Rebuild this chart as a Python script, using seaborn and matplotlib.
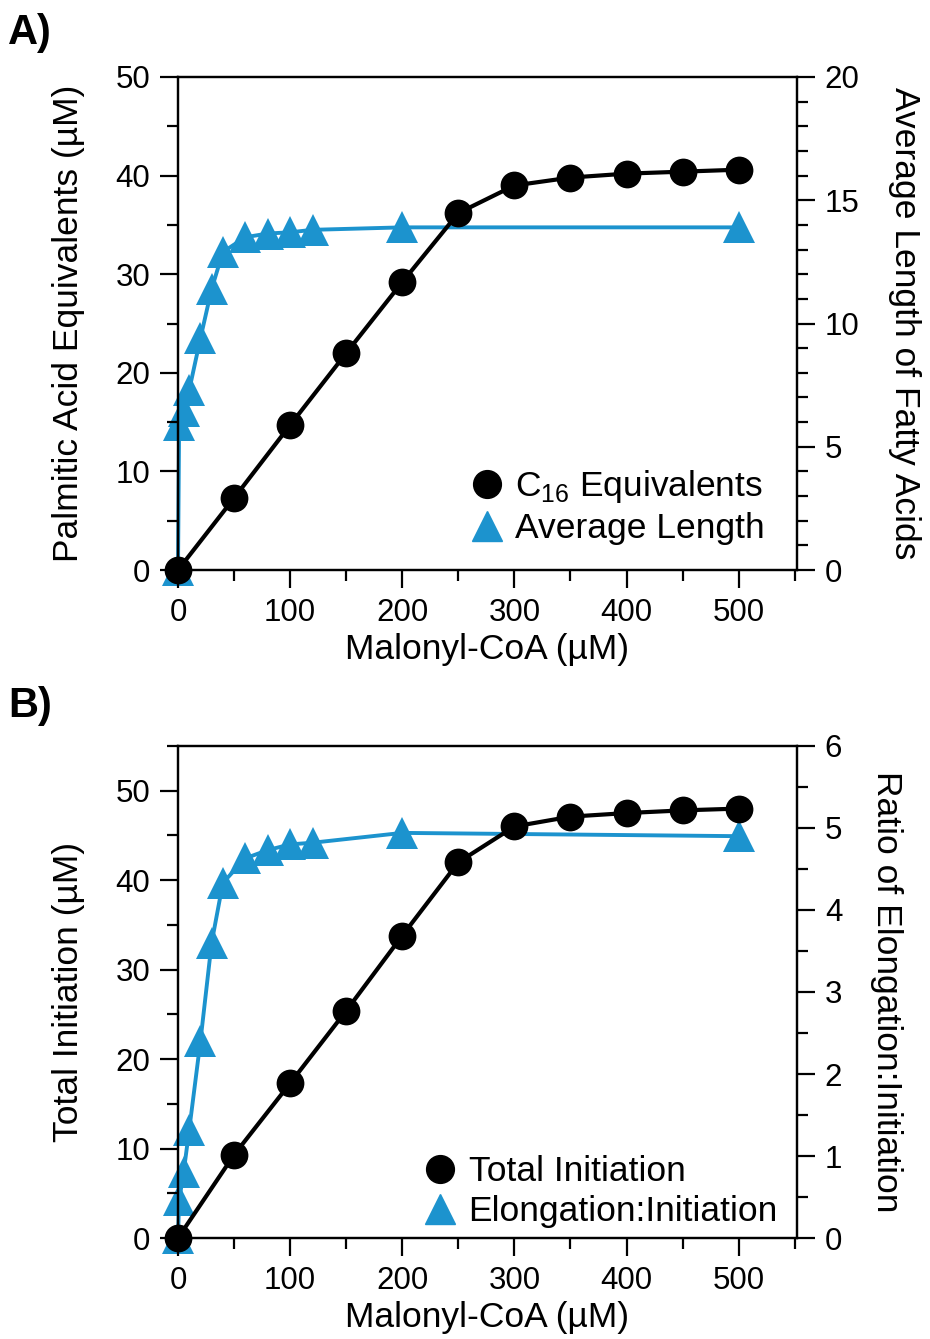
import matplotlib
matplotlib.use("Agg")
import matplotlib.pyplot as plt
from matplotlib.lines import Line2D
from matplotlib.ticker import MultipleLocator
import seaborn as sns

sns.set_theme(style="ticks")
plt.rcParams["font.family"] = ["Liberation Sans", "DejaVu Sans"]
plt.rcParams["mathtext.fontset"] = "custom"
plt.rcParams["mathtext.rm"] = "Liberation Sans"
for key in ["text.color", "axes.labelcolor", "xtick.color", "ytick.color"]:
    plt.rcParams[key] = "black"

BLUE = "#1C93CE"

# x values (Malonyl-CoA, uM)
malonyl_circ = [0, 50, 100, 150, 200, 250, 300, 350, 400, 450, 500]
malonyl_tri = [0, 1, 5, 10, 20, 30, 40, 60, 80, 100, 120, 200, 500]

# Panel A
c16_equiv = [0, 7.3, 14.7, 22.0, 29.2, 36.2, 39.0, 39.8, 40.2, 40.4, 40.6]
avg_length = [0, 5.9, 6.45, 7.3, 9.4, 11.4, 12.9, 13.5, 13.65, 13.7, 13.8, 13.9, 13.9]

# Panel B
total_init = [0, 9.3, 17.3, 25.4, 33.8, 42.0, 46.0, 47.1, 47.5, 47.8, 48.0]
elong_ratio = [0, 0.46, 0.8, 1.32, 2.4, 3.6, 4.33, 4.63, 4.73, 4.8, 4.82, 4.94, 4.9]

FS_TICK = 22.5
FS_LAB = 25.5


def style_axis(ax):
    ax.tick_params(which="major", length=13, width=1.6, labelsize=FS_TICK, direction="out", pad=7)
    ax.tick_params(which="minor", length=8, width=1.6, direction="out")
    for sp in ax.spines.values():
        sp.set_linewidth(1.6)
        sp.set_color("black")


def panel(ax, y_circ, y_tri, ylim_l, ylim_r, l_major, l_minor, r_major, r_minor,
          ylabel_l, ylabel_r, leg_labels, leg_anchor):
    ax2 = ax.twinx()
    sns.lineplot(x=malonyl_tri, y=y_tri, ax=ax2, color=BLUE, linewidth=2.8,
                 marker="^", markersize=23, markeredgewidth=0, clip_on=False)
    sns.lineplot(x=malonyl_circ, y=y_circ, ax=ax, color="black", linewidth=3,
                 marker="o", markersize=20, markeredgewidth=0, clip_on=False)
    ax.set_zorder(ax2.get_zorder() + 1)
    ax.patch.set_visible(False)

    ax.set_xlim(0, 552)
    ax.set_ylim(*ylim_l)
    ax2.set_ylim(*ylim_r)
    ax.xaxis.set_major_locator(MultipleLocator(100))
    ax.xaxis.set_minor_locator(MultipleLocator(50))
    ax.yaxis.set_major_locator(MultipleLocator(l_major))
    ax.yaxis.set_minor_locator(MultipleLocator(l_minor))
    ax2.yaxis.set_major_locator(MultipleLocator(r_major))
    ax2.yaxis.set_minor_locator(MultipleLocator(r_minor))
    style_axis(ax)
    style_axis(ax2)

    ax.set_xlabel("Malonyl-CoA (µM)", fontsize=FS_LAB, labelpad=4)
    ax.set_ylabel(ylabel_l, fontsize=FS_LAB, labelpad=22)
    ax2.set_ylabel(ylabel_r, fontsize=FS_LAB, rotation=270, labelpad=44)

    handles = [
        Line2D([], [], color="black", marker="o", linestyle="none", markersize=20),
        Line2D([], [], color=BLUE, marker="^", linestyle="none", markersize=22),
    ]
    ax.legend(handles, leg_labels, loc="lower right", bbox_to_anchor=leg_anchor,
              frameon=False, fontsize=FS_LAB, handletextpad=0.3, borderaxespad=0,
              labelspacing=0.2, handlelength=1.0, borderpad=0)


fig = plt.figure(figsize=(9.3, 13.39), dpi=100)
axA = fig.add_axes([0.1914, 0.5743, 0.6656, 0.3682])
axB = fig.add_axes([0.1914, 0.0754, 0.6656, 0.3675])

panel(axA, c16_equiv, avg_length, (0, 50), (0, 20), 10, 5, 5, 1,
      "Palmitic Acid Equivalents (µM)", "Average Length of Fatty Acids",
      [r"C$_{\mathregular{16}}$ Equivalents", "Average Length"], (0.948, 0.05))
panel(axB, total_init, elong_ratio, (0, 55), (0, 6), 10, 5, 1, 0.5,
      "Total Initiation (µM)", "Ratio of Elongation:Initiation",
      ["Total Initiation", "Elongation:Initiation"], (0.969, 0.02))

fig.text(0.009, 0.99, "A)", fontsize=30, fontweight="bold", va="top", ha="left")
fig.text(0.009, 0.488, "B)", fontsize=30, fontweight="bold", va="top", ha="left")

fig.savefig("out.png", dpi=100)
